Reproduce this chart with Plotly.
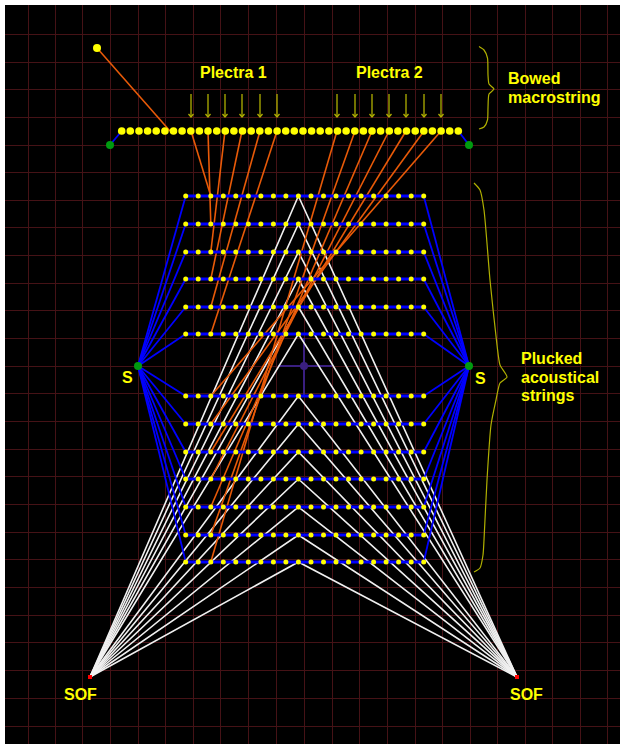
import plotly.graph_objects as go

# Grid
grid_x = [28, 55, 82, 110, 138, 165, 193, 220, 248, 276, 304, 332, 359, 387, 415, 442, 470, 497, 525, 552, 580, 607]
grid_y = [6, 34, 62, 89, 117, 145, 172, 200, 227, 255, 283, 310, 338, 366, 393, 421, 449, 476, 504, 532, 559, 587, 615, 642, 670, 698, 726]

# Bowed macrostring
bow_x = [121.7, 130.3, 139.0, 147.6, 156.2, 164.9, 173.5, 182.1, 190.8, 199.4, 208.0, 216.7, 225.3, 233.9, 242.5, 251.2, 259.8,
         268.4, 277.1, 285.7, 294.3, 303.0, 311.6, 320.2, 328.9, 337.5, 346.1, 354.8, 363.4, 372.0, 380.6, 389.3, 397.9, 406.5,
         415.2, 423.8, 432.4, 441.1, 449.7, 458.3]
bow_y = [131] * len(bow_x)
bow_ends_x = [110, 121.7, None, 458.3, 469]
bow_ends_y = [145, 131, None, 131, 145]
excitation = (97, 48)
excitation_hit = (170, 131)

# Plectra
plectra1_x = [191, 208, 225, 242, 260, 277]
plectra2_x = [337, 355, 372, 389, 406, 424, 441]
arrow_top = 94
arrow_tip = 117

# Plucked strings
string_y_upper = [196, 224, 252, 279, 307, 334]
string_y_lower = [396, 424, 452, 479, 507, 535, 562]
string_y = string_y_upper + string_y_lower
dot_x = [185.7, 198.2, 210.8, 223.3, 235.8, 248.3, 260.9, 273.4, 285.9, 298.4, 311.0, 323.5, 336.0, 348.5, 361.1, 373.6, 386.1,
         398.6, 411.2, 423.7]
apex_x = 298.4
plectrum_contact_x = 210.8

# Anchors
s_left = (138, 366)
s_right = (469, 366)
sof_left = (90, 677)
sof_right = (517, 677)
body = (304, 366)
body_h = [278, 332]
body_v = [338, 395]

# Braces
brace1_x = [479, 484, 487.5, 488, 489, 494, 489, 488, 487.5, 484, 479]
brace1_y = [46.5, 50, 58, 75, 84, 89, 94, 108, 120, 127, 129]
brace2_x = [474, 480, 484, 490, 497, 500, 507, 500, 496, 491, 487, 484, 483, 480, 474]
brace2_y = [183, 190, 210, 280, 345, 365, 377, 383, 400, 425, 480, 540, 555, 568, 572]

# Labels
labels = [("Plectra 1", 233, 72), ("Plectra 2", 389, 72), ("S", 127, 377), ("S", 480, 378), ("SOF", 80, 694), ("SOF", 526, 694)]
left_labels = [("Bowed", 508, 78), ("macrostring", 508, 97), ("Plucked", 521, 358), ("acoustical", 521, 377), ("strings", 521, 395)]

YELLOW = "#ffff00"
ORANGE = "#e85a08"
BLUE = "#0000ff"
OLIVE = "#b0b000"
WHITE = "#f0f0f0"
GREEN = "#009a10"
PURPLE = "#3a1f80"


def lines(x, y, color, width):
    return go.Scatter(x=x, y=y, mode="lines", line=dict(color=color, width=width, simplify=False), hoverinfo="skip",
                      showlegend=False)


def dots(x, y, color, size, symbol="circle"):
    return go.Scatter(x=x, y=y, mode="markers", marker=dict(color=color, size=size, symbol=symbol, line=dict(width=0)),
                      hoverinfo="skip", showlegend=False)


fig = go.Figure()

# Soundboard cross
fig.add_trace(lines(body_h + [None, body[0], body[0]], [body[1], body[1], None, body_v[0], body_v[1]], PURPLE, 2))
fig.add_trace(dots([body[0]], [body[1]], PURPLE, 8))

# White bridge lines to the sound-output points
wx, wy = [], []
for y in string_y:
    wx += [sof_left[0], apex_x, sof_right[0], None]
    wy += [sof_left[1], y, sof_right[1], None]
fig.add_trace(lines(wx, wy, WHITE, 1.6))

# Orange plectrum links
ox, oy = [excitation[0], excitation_hit[0], None], [excitation[1], excitation_hit[1], None]
for px, y in zip(plectra1_x + plectra2_x[::-1], string_y):
    ox += [px, plectrum_contact_x, None]
    oy += [131, y, None]
fig.add_trace(lines(ox, oy, ORANGE, 1.6))

# Blue string outlines
bx, by = [], []
for y in string_y:
    bx += [s_left[0], dot_x[0], None, dot_x[-1], s_right[0], None]
    by += [s_left[1], y, None, y, s_right[1], None]
fig.add_trace(lines(bx, by, BLUE, 1.8))
fig.add_trace(lines(bow_ends_x, bow_ends_y, BLUE, 1.8))

# Blue strings as one trace of separate segments
hx, hy = [], []
for y in string_y:
    for x0, x1 in zip(dot_x[:-1], dot_x[1:]):
        hx += [x0, x1, None]
        hy += [y, y, None]
fig.add_trace(lines(hx, hy, BLUE, 3))

# Arrows
ax, ay = [], []
for px in plectra1_x + plectra2_x:
    ax += [px, px, None, px - 2.5, px, px + 2.5, None]
    ay += [arrow_top, arrow_tip, None, arrow_tip - 3, arrow_tip, arrow_tip - 3, None]
fig.add_trace(lines(ax, ay, OLIVE, 1.3))

# Braces
for bxs, bys in ((brace1_x, brace1_y), (brace2_x, brace2_y)):
    fig.add_trace(go.Scatter(x=bxs, y=bys, mode="lines", line=dict(color=OLIVE, width=1.2, shape="spline", smoothing=0.6),
                             hoverinfo="skip", showlegend=False))

# Dots
sx, sy = [], []
for y in string_y:
    sx += dot_x
    sy += [y] * len(dot_x)
fig.add_trace(dots(sx, sy, YELLOW, 5))
fig.add_trace(dots(bow_x, bow_y, YELLOW, 7.6))
fig.add_trace(dots([excitation[0]], [excitation[1]], YELLOW, 8))
fig.add_trace(dots([bow_ends_x[0], bow_ends_x[-1], s_left[0], s_right[0]], [bow_ends_y[0], bow_ends_y[-1], s_left[1], s_right[1]], GREEN, 8))
fig.add_trace(dots([sof_left[0], sof_right[0]], [sof_left[1], sof_right[1]], "#ff0000", 4, "square"))

for text, x, y in labels:
    fig.add_annotation(x=x, y=y, text=f"<b>{text}</b>", showarrow=False, xanchor="center", yanchor="middle",
                       font=dict(family="Liberation Sans", size=16, color=YELLOW))
for text, x, y in left_labels:
    fig.add_annotation(x=x, y=y, text=f"<b>{text}</b>", showarrow=False, xanchor="left", yanchor="middle", xshift=-2,
                       font=dict(family="Liberation Sans", size=16, color=YELLOW))

axis = dict(showticklabels=False, ticks="", zeroline=False, showline=False, gridcolor="#451216", gridwidth=1)
fig.update_layout(
    width=620, height=744, margin=dict(l=5, r=0, t=5, b=0), paper_bgcolor="white", plot_bgcolor="black", showlegend=False,
    xaxis=dict(range=[5, 620], tickmode="array", tickvals=grid_x, **axis),
    yaxis=dict(range=[744, 5], tickmode="array", tickvals=grid_y, **axis),
)
fig.write_html("out.html", config=dict(displayModeBar=False), post_script="document.body.style.margin='0';")
